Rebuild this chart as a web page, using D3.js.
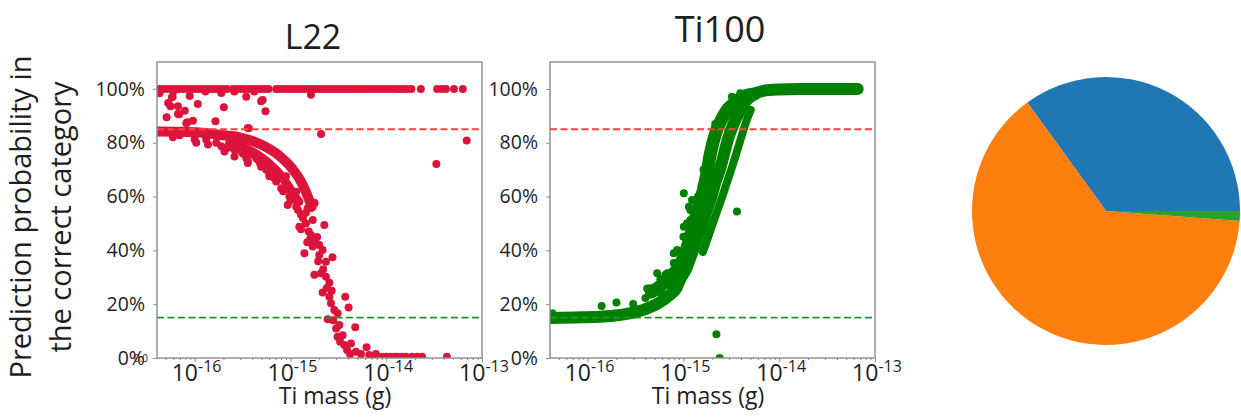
<!DOCTYPE html>
<html>
<head>
<meta charset="utf-8">
<script src="https://cdn.jsdelivr.net/npm/d3@7"></script>
<style>
  body { margin: 0; background: #fff; }
  text { font-family: "Open Sans", sans-serif; fill: #1e1e1e; }
</style>
</head>
<body>
<svg id="chart" width="1241" height="417"></svg>
<script>
// ---- data (mass in g, probability 0..1) ----

// L22: points sitting on the 100% row
var l22Top = [4.3e-17, 4.7e-17, 5.2e-17, 5.7e-17, 6.3e-17, 6.9e-17, 7.6e-17, 8.4e-17, 9.2e-17,
  1.01e-16, 1.11e-16, 1.22e-16, 1.34e-16, 1.48e-16, 1.63e-16, 1.79e-16, 1.97e-16, 2.17e-16,
  2.5e-16, 2.75e-16, 3.0e-16, 3.3e-16, 3.65e-16, 4.0e-16, 4.4e-16, 4.85e-16, 5.35e-16, 5.9e-16,
  7.1e-16, 7.8e-16, 8.6e-16, 9.5e-16, 1.04e-15, 1.15e-15, 1.26e-15, 1.39e-15, 1.53e-15, 1.68e-15,
  1.85e-15, 2.03e-15, 2.24e-15, 2.46e-15, 2.71e-15, 2.98e-15, 3.28e-15, 3.61e-15, 3.97e-15,
  4.37e-15, 4.8e-15, 5.3e-15, 5.8e-15, 6.4e-15, 7.0e-15, 7.7e-15, 8.5e-15, 9.4e-15, 1.03e-14,
  1.13e-14, 1.25e-14, 1.37e-14, 1.51e-14, 1.66e-14, 1.83e-14, 2.3e-14, 3.4e-14, 3.8e-14,
  4.2e-14, 5.1e-14, 6.3e-14];

// L22: points sitting on the 0% row
var l22Zero = [7.15e-15, 9.1e-15, 1.0e-14, 1.1e-14, 1.2e-14, 1.3e-14, 1.45e-14, 1.6e-14,
  1.86e-14, 2.1e-14, 2.37e-14, 4.3e-14];

// L22: the dense decreasing band (outer and inner run)
var l22Curve = [[4.02e-17, 0.842], [6.98e-17, 0.841], [1.13e-16, 0.838], [1.82e-16, 0.829],
  [2.94e-16, 0.820], [4.75e-16, 0.796], [7.68e-16, 0.751], [1.05e-15, 0.703], [1.33e-15, 0.647],
  [1.54e-15, 0.595], [1.66e-15, 0.561]];
var l22InnerCurve = [[2.32e-16, 0.799], [3.32e-16, 0.781], [4.53e-16, 0.755], [6.04e-16, 0.721],
  [7.87e-16, 0.680], [9.77e-16, 0.632], [1.18e-15, 0.587]];

// L22: scattered points
var l22Points = [
  [4.3e-17, 0.984], [5.1e-17, 0.895], [5.3e-17, 0.948], [5.6e-17, 0.936], [5.8e-17, 0.969],
  [5.9e-17, 0.971], [6.7e-17, 0.936], [6.7e-17, 0.907], [6.9e-17, 0.906], [7.9e-17, 0.919],
  [8.2e-17, 0.872], [8.4e-17, 0.876], [8.9e-17, 0.974], [9.6e-17, 0.882], [1.08e-16, 0.944],
  [1.65e-16, 0.880], [2.02e-16, 0.932], [3.46e-16, 0.971], [3.59e-16, 0.855], [4.95e-16, 0.954],
  [5.14e-16, 0.959], [5.5e-16, 0.917], [1.64e-15, 0.978], [2.09e-15, 0.832], [3.34e-14, 0.721],
  [6.92e-14, 0.808], [6.0e-17, 0.99], [1.3e-16, 0.99], [1.9e-16, 0.985], [2.6e-16, 0.99],
  [4.2e-16, 0.99], [3.68e-16, 0.854],
  [5.94e-17, 0.82], [7.0e-17, 0.828], [1.0e-16, 0.812], [1.04e-16, 0.80], [1.32e-16, 0.812],
  [1.38e-16, 0.793], [1.68e-16, 0.80], [1.9e-16, 0.787], [2.05e-16, 0.767], [2.22e-16, 0.781],
  [2.61e-16, 0.774], [2.61e-16, 0.749], [2.72e-16, 0.779], [3.06e-16, 0.768], [3.19e-16, 0.76],
  [3.46e-16, 0.743], [3.59e-16, 0.725], [3.59e-16, 0.73], [3.89e-16, 0.756], [4.39e-16, 0.742],
  [4.56e-16, 0.737], [4.95e-16, 0.711], [5.36e-16, 0.719], [6.04e-16, 0.706], [6.04e-16, 0.681],
  [6.04e-16, 0.675], [6.54e-16, 0.693], [7.1e-16, 0.656], [7.38e-16, 0.688], [8.0e-16, 0.631],
  [9.0e-16, 0.675], [9.0e-16, 0.643], [9.38e-16, 0.569], [9.77e-16, 0.60], [1.15e-15, 0.618],
  [1.15e-15, 0.562], [1.24e-15, 0.581], [1.29e-15, 0.532], [1.51e-15, 0.556], [1.78e-15, 0.575],
  [1.78e-15, 0.577], [1.71e-15, 0.513], [1.24e-15, 0.488], [2.26e-15, 0.494], [1.1e-15, 0.59],
  [1.2e-15, 0.55], [1.45e-15, 0.54], [1.35e-15, 0.52], [1.45e-15, 0.50],
  [4.8e-16, 0.725], [5.6e-16, 0.70], [6.8e-16, 0.668], [8.4e-16, 0.62], [1.0e-15, 0.585],
  [1.29e-15, 0.478], [1.64e-15, 0.457], [1.55e-15, 0.47], [1.85e-15, 0.426], [1.71e-15, 0.414],
  [1.6e-15, 0.44], [1.5e-15, 0.43], [1.9e-15, 0.45], [2.0e-15, 0.42], [1.4e-15, 0.389],
  [2.17e-15, 0.401], [2.75e-15, 0.374], [2.0e-15, 0.383], [2.35e-15, 0.358], [1.95e-15, 0.36],
  [2.2e-15, 0.33], [1.78e-15, 0.309], [2.09e-15, 0.315], [2.35e-15, 0.302], [2.55e-15, 0.280],
  [2.4e-15, 0.26], [2.7e-15, 0.25], [2.17e-15, 0.243], [2.55e-15, 0.228], [3.74e-15, 0.228],
  [2.65e-15, 0.203], [2.87e-15, 0.178], [4.05e-15, 0.188], [2.45e-15, 0.144], [2.8e-15, 0.14],
  [3.11e-15, 0.166], [3.24e-15, 0.123], [3.0e-15, 0.11], [4.75e-15, 0.114], [3.11e-15, 0.079],
  [3.51e-15, 0.085], [3.3e-15, 0.06], [3.65e-15, 0.048], [4.29e-15, 0.054], [6.24e-15, 0.040],
  [3.9e-15, 0.03], [4.83e-15, 0.023], [4.2e-15, 0.015], [5.45e-15, 0.015], [6.65e-15, 0.011],
  [7.81e-15, 0.015], [9.77e-15, 0.004]];

// Ti100: main rising band, its left thickening and the separate right run
var tiCurve = [[4.12e-17, 0.149], [8.46e-17, 0.151], [1.74e-16, 0.156], [2.81e-16, 0.167],
  [4.02e-16, 0.182], [5.5e-16, 0.204], [6.98e-16, 0.230], [8.45e-16, 0.260], [9.31e-16, 0.294],
  [1.07e-15, 0.331], [1.18e-15, 0.372], [1.3e-15, 0.413], [1.43e-15, 0.454], [1.58e-15, 0.498],
  [1.74e-15, 0.546], [1.96e-15, 0.599], [2.15e-15, 0.651], [2.43e-15, 0.706], [2.67e-15, 0.762],
  [2.94e-15, 0.818], [3.34e-15, 0.870], [3.83e-15, 0.914], [4.42e-15, 0.952], [5.36e-15, 0.978],
  [6.81e-15, 0.993], [9.77e-15, 0.998], [1.66e-14, 1.0], [3.4e-14, 1.0], [6.6e-14, 1.0]];
var tiCurveLeft = [[4.64e-16, 0.245], [6.81e-16, 0.290], [9.31e-16, 0.349], [1.18e-15, 0.446],
  [1.4e-15, 0.546], [1.61e-15, 0.621], [1.78e-15, 0.695], [1.91e-15, 0.758], [2.21e-15, 0.844],
  [2.49e-15, 0.885], [2.87e-15, 0.922], [3.4e-15, 0.948], [4.02e-15, 0.967], [5.5e-15, 0.981]];
var tiCurveRight = [[1.6e-15, 0.394], [1.8e-15, 0.446], [2.02e-15, 0.498], [2.27e-15, 0.550],
  [2.56e-15, 0.602], [2.88e-15, 0.658], [3.25e-15, 0.714], [3.66e-15, 0.773], [4.12e-15, 0.833],
  [4.62e-15, 0.888], [5.05e-15, 0.922]];

// Ti100: scattered points
var tiPoints = [[4.29e-17, 0.166], [1.4e-16, 0.193], [2.0e-16, 0.206], [2.99e-16, 0.201],
  [4.02e-16, 0.223], [4.19e-16, 0.258], [4.35e-16, 0.253], [4.53e-16, 0.259], [5.32e-16, 0.315],
  [5.75e-16, 0.293], [6.49e-16, 0.309], [6.76e-16, 0.309], [6.81e-16, 0.315], [7.62e-16, 0.320],
  [7.93e-16, 0.353], [7.93e-16, 0.389], [8.6e-16, 0.401], [8.93e-16, 0.358], [1.0e-15, 0.451],
  [1.01e-15, 0.488], [1.09e-15, 0.501], [1.14e-15, 0.501], [1.18e-15, 0.513], [1.18e-15, 0.476],
  [1.14e-15, 0.562], [1.18e-15, 0.55], [1.23e-15, 0.587], [1.01e-15, 0.612], [1.39e-15, 0.569],
  [1.5e-15, 0.606], [1.5e-15, 0.612], [1.69e-15, 0.674], [1.84e-15, 0.686], [1.84e-15, 0.705],
  [1.91e-15, 0.637], [1.91e-15, 0.749], [1.99e-15, 0.755], [2.07e-15, 0.799], [2.24e-15, 0.836],
  [2.43e-15, 0.885], [2.85e-15, 0.934], [3.21e-15, 0.971], [3.92e-15, 0.984], [2.21e-15, 0.088],
  [2.39e-15, 0.0], [3.62e-15, 0.544], [6.6e-14, 1.0],
  [5.9e-16, 0.24], [7.2e-16, 0.27], [8.0e-16, 0.30], [9.0e-16, 0.33], [9.6e-16, 0.38],
  [1.05e-15, 0.42], [1.12e-15, 0.46], [1.25e-15, 0.50], [1.3e-15, 0.53], [1.42e-15, 0.60],
  [1.55e-15, 0.64], [1.62e-15, 0.70], [1.76e-15, 0.74], [1.95e-15, 0.80], [2.15e-15, 0.87]];

// pie shares (blue, orange, green), counter-clockwise from 3 o'clock
var pieValues = [35.0, 63.8, 1.2];
var pieColors = ["#1f77b4", "#ff7f0e", "#2ca02c"];

var yTicks = [0, 0.2, 0.4, 0.6, 0.8, 1.0];
var xTicks = [1e-16, 1e-15, 1e-14, 1e-13];
var xTickExp = ["-16", "-15", "-14", "-13"];
var xDomain = [4.05e-17, 1e-13];
var yDomain = [0, 1.1];
var upperLine = 0.85;
var lowerLine = 0.15;

// ---- layout ----
var svg = d3.select("#chart");
var params = { top: 62, width: 325, height: 296 };
var red = "#dc143c";
var green = "#008000";
var spine = "#8a8a8a";

function translate(x, y) { return "translate(" + x + "," + y + ")"; }

function dots(plot, x, y, data, color) {
  plot.append("g").selectAll("circle")
    .data(data)
    .enter().append("circle")
    .attr("cx", function(d) { return x(d[0]); })
    .attr("cy", function(d) { return y(d[1]); })
    .attr("r", 4)
    .attr("fill", color);
}

function band(plot, x, y, data, color, width) {
  var line = d3.line()
    .x(function(d) { return x(d[0]); })
    .y(function(d) { return y(d[1]); })
    .curve(d3.curveMonotoneX);
  plot.append("path")
    .datum(data)
    .attr("d", line)
    .attr("fill", "none")
    .attr("stroke", color)
    .attr("stroke-width", width)
    .attr("stroke-linecap", "round")
    .attr("stroke-linejoin", "round");
}

function drawPanel(p) {
  var g = svg.append("g").attr("transform", translate(p.left, params.top));
  var x = d3.scaleLog().domain(xDomain).range([0, params.width]);
  var y = d3.scaleLinear().domain(yDomain).range([params.height, 0]);

  g.append("clipPath").attr("id", "clip-" + p.name)
    .append("rect").attr("width", params.width).attr("height", params.height);
  var plot = g.append("g").attr("clip-path", "url(#clip-" + p.name + ")");

  p.draw(plot, x, y);

  // threshold lines on top of the points
  plot.append("line")
    .attr("x1", 0).attr("x2", params.width)
    .attr("y1", y(upperLine)).attr("y2", y(upperLine))
    .attr("stroke", "#ff4040").attr("stroke-width", 1.8).attr("stroke-dasharray", "7,3.5");
  plot.append("line")
    .attr("x1", 0).attr("x2", params.width)
    .attr("y1", y(lowerLine)).attr("y2", y(lowerLine))
    .attr("stroke", "#22932a").attr("stroke-width", 1.7).attr("stroke-dasharray", "7,3.5");

  // y axis
  var gy = g.append("g").call(d3.axisLeft(y).tickValues(yTicks).tickSize(4).tickFormat(d3.format(".0%")));
  gy.select(".domain").remove();
  gy.selectAll("line").attr("stroke", spine);
  gy.selectAll("text")
    .attr("x", -12)
    .attr("font-size", 19.5)
    .attr("font-family", "Open Sans, sans-serif")
    .attr("fill", "#262626");

  // x axis: minor then major ticks
  var minor = x.ticks().filter(function(v) {
    return Math.abs(Math.log10(v) - Math.round(Math.log10(v))) > 1e-6;
  });
  var gm = g.append("g").attr("transform", translate(0, params.height))
    .call(d3.axisBottom(x).tickValues(minor).tickSize(2).tickFormat(""));
  gm.select(".domain").remove();
  gm.selectAll("line").attr("stroke", spine);

  var gx = g.append("g").attr("transform", translate(0, params.height))
    .call(d3.axisBottom(x).tickValues(xTicks).tickSize(4).tickFormat(""));
  gx.select(".domain").remove();
  gx.selectAll("line").attr("stroke", spine);

  xTicks.forEach(function(v, i) {
    var t = g.append("text")
      .attr("x", x(v) + 2)
      .attr("y", params.height + 23)
      .attr("text-anchor", "middle")
      .attr("fill", "#262626");
    t.append("tspan").attr("font-size", 23).text("10");
    t.append("tspan").attr("font-size", 16).attr("dy", -9).text(xTickExp[i]);
  });

  // frame
  g.append("rect")
    .attr("width", params.width).attr("height", params.height)
    .attr("fill", "none").attr("stroke", spine).attr("stroke-width", 1.4);

  // title and x label
  g.append("text")
    .attr("x", p.titleX).attr("y", p.titleY - params.top)
    .attr("text-anchor", "middle").attr("font-size", p.titleSize)
    .attr("fill", "#111")
    .text(p.title);
  g.append("text")
    .attr("x", p.labelX).attr("y", params.height + 46)
    .attr("text-anchor", "middle").attr("font-size", 23)
    .text("Ti mass (g)");

  if (p.ghost) {
    g.append("text")
      .attr("x", -16).attr("y", params.height + 4)
      .attr("text-anchor", "middle").attr("font-size", 10)
      .attr("fill", "#444")
      .text("0.0");
  }
}

var panels = [
  { name: "L22", left: 157, title: "L22", titleX: 156, titleY: 49, titleSize: 34, labelX: 178, ghost: true,
    draw: function(plot, x, y) {
      band(plot, x, y, l22Curve, red, 10);
      band(plot, x, y, l22InnerCurve, red, 9);
      dots(plot, x, y, l22Top.map(function(m) { return [m, 1.0]; }), red);
      dots(plot, x, y, l22Zero.map(function(m) { return [m, 0.005]; }), red);
      dots(plot, x, y, l22Points, red);
    } },
  { name: "Ti100", left: 550, title: "Ti100", titleX: 170, titleY: 42, titleSize: 36, labelX: 158, ghost: false,
    draw: function(plot, x, y) {
      band(plot, x, y, tiCurve, green, 12);
      band(plot, x, y, tiCurveLeft, green, 13);
      band(plot, x, y, tiCurveRight, green, 8);
      dots(plot, x, y, tiPoints, green);
    } }
];

panels.forEach(drawPanel);

// shared y label
var ylab = svg.append("g").attr("font-size", 29).attr("text-anchor", "middle");
ylab.append("text")
  .attr("transform", translate(31, 217) + " rotate(-90)")
  .text("Prediction  probability in");
ylab.append("text")
  .attr("transform", translate(71, 217) + " rotate(-90)")
  .text("the correct category");

// pie
var pie = d3.pie().sort(null)
  .startAngle(Math.PI / 2)
  .endAngle(Math.PI / 2 - 2 * Math.PI);
var arc = d3.arc().innerRadius(0).outerRadius(134);

svg.append("g")
  .attr("transform", translate(1106, 211))
  .selectAll("path")
  .data(pie(pieValues))
  .enter().append("path")
  .attr("d", arc)
  .attr("fill", function(d, i) { return pieColors[i]; });
</script>
</body>
</html>
